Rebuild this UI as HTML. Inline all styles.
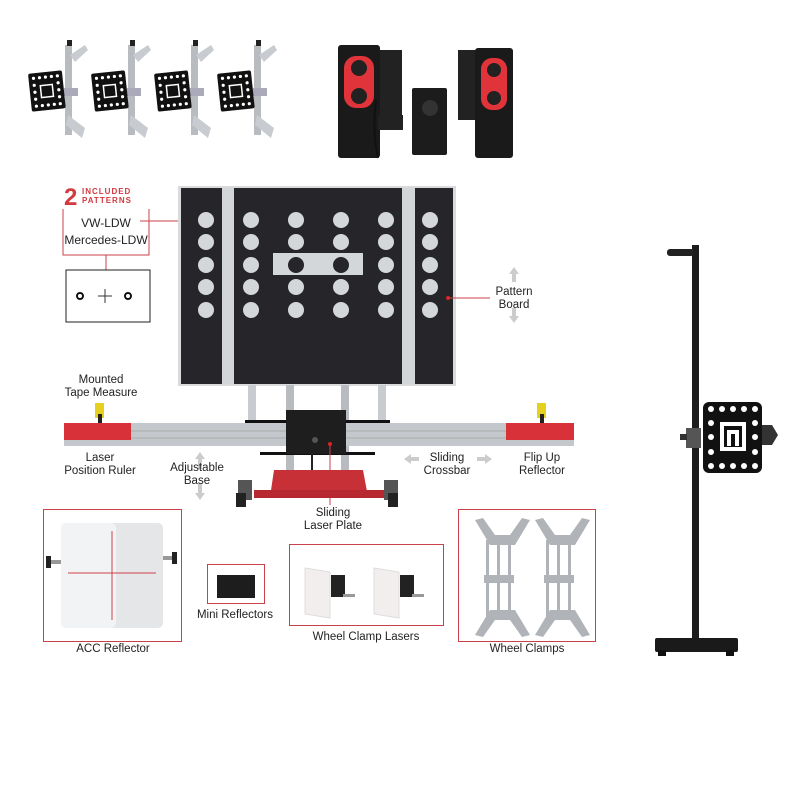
<!DOCTYPE html>
<html><head><meta charset="utf-8"><style>
body{margin:0;background:#fff;width:800px;height:800px;overflow:hidden;position:relative;font-family:"Liberation Sans",sans-serif}
.a{position:absolute}
.t{position:absolute;font-size:11.5px;color:#222;text-align:center;line-height:13px;transform:translateX(-50%);white-space:nowrap}
.box{position:absolute;border:1.5px solid #c9424a}
.dot{position:absolute;width:16px;height:16px;border-radius:50%;background:#d4d7da}
</style></head><body>
<svg class="a" style="left:0;top:0" width="800" height="800">
<defs>
<g id="clamp">
<rect x="35" y="45" width="7" height="90" fill="#b8bcc0"/>
<path d="M40 55 L55 45 L58 50 L45 62 Z" fill="#c8ccd0"/>
<path d="M38 115 L55 128 L52 138 L36 125 Z" fill="#c8ccd0"/>
<rect x="34" y="88" width="14" height="8" fill="#aab"/>
<rect x="37" y="40" width="5" height="6" fill="#222"/>
<g transform="rotate(-6 17 92)">
<rect x="0" y="72" width="34" height="38" rx="2" fill="#111"/>
<g fill="#fff">
<circle cx="5" cy="77" r="1.6"/><circle cx="11" cy="77" r="1.6"/><circle cx="17" cy="77" r="1.6"/><circle cx="23" cy="77" r="1.6"/><circle cx="29" cy="77" r="1.6"/>
<circle cx="5" cy="84" r="1.6"/><circle cx="29" cy="84" r="1.6"/><circle cx="5" cy="91" r="1.6"/><circle cx="29" cy="91" r="1.6"/><circle cx="5" cy="98" r="1.6"/><circle cx="29" cy="98" r="1.6"/>
<circle cx="5" cy="105" r="1.6"/><circle cx="11" cy="105" r="1.6"/><circle cx="17" cy="105" r="1.6"/><circle cx="23" cy="105" r="1.6"/><circle cx="29" cy="105" r="1.6"/>
<rect x="11" y="85" width="12" height="12" fill="none" stroke="#fff" stroke-width="1.5"/>
</g></g>
</g>
</defs>
<use href="#clamp" x="30" y="0"/><use href="#clamp" x="93" y="0"/><use href="#clamp" x="156" y="0"/><use href="#clamp" x="219" y="0"/>
<!-- cameras -->
<rect x="338" y="45" width="42" height="113" rx="3" fill="#1a1a1a"/>
<rect x="380" y="50" width="22" height="70" fill="#222"/>
<rect x="378" y="115" width="25" height="15" fill="#222"/>
<rect x="344" y="56" width="30" height="52" rx="12" fill="#e0343a"/>
<circle cx="359" cy="68" r="8" fill="#222"/><circle cx="359" cy="96" r="8" fill="#222"/>
<path d="M376 100 Q372 130 378 158" stroke="#111" stroke-width="2" fill="none"/>
<rect x="412" y="88" width="35" height="67" rx="2" fill="#1c1c1c"/>
<circle cx="430" cy="108" r="8" fill="#333"/>
<rect x="458" y="50" width="20" height="70" fill="#222"/>
<rect x="475" y="48" width="38" height="110" rx="3" fill="#1a1a1a"/>
<rect x="481" y="58" width="26" height="52" rx="11" fill="#e0343a"/>
<circle cx="494" cy="70" r="7" fill="#222"/><circle cx="494" cy="98" r="7" fill="#222"/>
<!-- 2 included patterns -->
<text x="64" y="205" font-family="Liberation Sans" font-weight="bold" font-size="24" fill="#d23a40">2</text>
<text x="82" y="194" font-family="Liberation Sans" font-size="8" font-weight="bold" fill="#d23a40" letter-spacing="1">INCLUDED</text>
<text x="82" y="203" font-family="Liberation Sans" font-size="8" font-weight="bold" fill="#d23a40" letter-spacing="1">PATTERNS</text>
<path d="M63 209 V255 H149 V209" fill="none" stroke="#c9424a" stroke-width="1"/>
<line x1="106" y1="255" x2="106" y2="277" stroke="#c9424a"/>
<circle cx="106" cy="277" r="2" fill="#c9424a"/>
<line x1="140" y1="221" x2="187" y2="221" stroke="#c9424a"/>
<circle cx="187" cy="221" r="2" fill="#e02020"/>
<rect x="66" y="270" width="84" height="52" fill="#fff" stroke="#222" stroke-width="1"/>
<circle cx="80" cy="296" r="3" fill="none" stroke="#111" stroke-width="2"/>
<circle cx="128" cy="296" r="3" fill="none" stroke="#111" stroke-width="2"/>
<path d="M98 296 H112 M105 289 V303" stroke="#333"/>
<!-- board -->
<rect x="178" y="186" width="278" height="200" fill="#d8dadc"/>
<rect x="181" y="188" width="272" height="196" fill="#25252a"/>
<rect x="222" y="188" width="12" height="196" fill="#d3d6d9"/>
<rect x="402" y="188" width="13" height="196" fill="#d3d6d9"/>
<rect x="273" y="253" width="90" height="22" fill="#d4d7da"/>
<circle cx="448" cy="298" r="2" fill="#e02020"/>
<line x1="448" y1="298" x2="490" y2="298" stroke="#c9424a"/>
<!-- arrows -->
<g fill="#ccc">
<path d="M514 267 l-5 7 h3 v8 h4 v-8 h3 z"/><path d="M514 323 l-5 -7 h3 v-8 h4 v8 h3 z"/>
<path d="M200 452 l-5 7 h3 v10 h4 v-10 h3 z"/><path d="M200 500 l-5 -7 h3 v-10 h4 v10 h3 z"/>
<path d="M404 459 l7 -5 v3 h8 v4 h-8 v3 z"/><path d="M492 459 l-7 -5 v3 h-8 v4 h8 v3 z"/>
</g>
<!-- uprights -->
<rect x="248" y="385" width="8" height="40" fill="#c8ccd0"/><rect x="378" y="385" width="8" height="40" fill="#c8ccd0"/>
<rect x="286" y="385" width="8" height="85" fill="#b8bcc0"/><rect x="341" y="385" width="8" height="85" fill="#b8bcc0"/>
<rect x="245" y="420" width="145" height="4" fill="#111"/>
<!-- crossbar -->
<rect x="64" y="423" width="510" height="23" fill="#c4c8cc"/>
<line x1="64" y1="431" x2="574" y2="431" stroke="#aaa"/><line x1="64" y1="438" x2="574" y2="438" stroke="#aaa"/>
<rect x="64" y="423" width="67" height="17" fill="#d8313a"/>
<rect x="506" y="423" width="68" height="17" fill="#d8313a"/>
<rect x="95" y="403" width="9" height="15" fill="#e5d020"/><rect x="98" y="414" width="4" height="9" fill="#222"/>
<rect x="537" y="403" width="9" height="15" fill="#e5d020"/><rect x="540" y="414" width="4" height="9" fill="#222"/>
<rect x="260" y="452" width="115" height="3" fill="#111"/>
<rect x="286" y="410" width="60" height="44" fill="#1e1e1e"/>
<circle cx="315" cy="440" r="3" fill="#555"/>
<line x1="330" y1="444" x2="330" y2="505" stroke="#c9424a"/>
<circle cx="330" cy="444" r="2" fill="#e02020"/>
<line x1="312" y1="454" x2="312" y2="490" stroke="#222" stroke-width="2"/>
<!-- base -->
<path d="M274 470 H363 L368 497 H270 Z" fill="#c83038"/>
<rect x="254" y="490" width="135" height="8" fill="#b82830"/>
<rect x="238" y="480" width="14" height="20" fill="#555"/><rect x="384" y="480" width="14" height="20" fill="#555"/>
<rect x="236" y="493" width="10" height="14" fill="#222"/><rect x="388" y="493" width="10" height="14" fill="#222"/>
<!-- bottom items -->
<rect x="61" y="523" width="102" height="105" rx="5" fill="#e4e6e8"/>
<rect x="61" y="523" width="55" height="105" rx="5" fill="#f2f3f4"/>
<line x1="68" y1="573" x2="156" y2="573" stroke="#d04048"/><line x1="112" y1="531" x2="112" y2="620" stroke="#d04048"/>
<rect x="50" y="560" width="11" height="4" fill="#999"/><rect x="46" y="556" width="5" height="12" fill="#222"/>
<rect x="163" y="556" width="10" height="4" fill="#999"/><rect x="172" y="552" width="5" height="12" fill="#222"/>
<rect x="217" y="575" width="38" height="23" fill="#1d1d1d"/>
<path d="M305 568 L330 572 V618 L305 614 Z" fill="#f2eeee" stroke="#ddd"/>
<rect x="331" y="575" width="14" height="22" fill="#222"/><rect x="343" y="594" width="12" height="3" fill="#999"/>
<path d="M374 568 L399 572 V618 L374 614 Z" fill="#f2eeee" stroke="#ddd"/>
<rect x="400" y="575" width="14" height="22" fill="#222"/><rect x="412" y="594" width="12" height="3" fill="#999"/>
<g fill="#b0b4b8">
<path d="M475 520 L490 545 H515 L530 520 L522 518 L510 535 H495 L483 518 Z"/>
<rect x="486" y="540" width="3" height="80"/><rect x="497" y="540" width="3" height="80"/><rect x="508" y="540" width="3" height="80"/>
<rect x="484" y="575" width="30" height="8"/>
<path d="M475 635 L490 610 H515 L530 635 L522 637 L510 620 H495 L483 637 Z"/>
<path d="M535 520 L550 545 H575 L590 520 L582 518 L570 535 H555 L543 518 Z"/>
<rect x="546" y="540" width="3" height="80"/><rect x="557" y="540" width="3" height="80"/><rect x="568" y="540" width="3" height="80"/>
<rect x="544" y="575" width="30" height="8"/>
<path d="M535 635 L550 610 H575 L590 635 L582 637 L570 620 H555 L543 637 Z"/>
</g>
<!-- stand -->
<rect x="692" y="245" width="7" height="395" fill="#1c1c1c"/>
<rect x="667" y="249" width="27" height="7" rx="3" fill="#222"/>
<rect x="655" y="638" width="83" height="14" rx="2" fill="#1a1a1a"/>
<rect x="658" y="650" width="8" height="6" fill="#111"/><rect x="726" y="650" width="8" height="6" fill="#111"/>
<rect x="703" y="402" width="59" height="71" rx="6" fill="#111"/>
<path d="M762 425 h10 l6 10 l-6 10 h-10 z" fill="#333"/>
<rect x="686" y="428" width="15" height="20" fill="#555"/><rect x="680" y="434" width="7" height="6" fill="#333"/>
<g fill="#fff">
<circle cx="711" cy="409" r="3"/><circle cx="722" cy="409" r="3"/><circle cx="733" cy="409" r="3"/><circle cx="744" cy="409" r="3"/><circle cx="755" cy="409" r="3"/>
<circle cx="711" cy="466" r="3"/><circle cx="722" cy="466" r="3"/><circle cx="733" cy="466" r="3"/><circle cx="744" cy="466" r="3"/><circle cx="755" cy="466" r="3"/>
<circle cx="711" cy="423" r="3"/><circle cx="711" cy="437" r="3"/><circle cx="711" cy="452" r="3"/>
<circle cx="755" cy="423" r="3"/><circle cx="755" cy="437" r="3"/><circle cx="755" cy="452" r="3"/>
</g>
<rect x="720" y="422" width="26" height="29" fill="#fff"/><rect x="724" y="426" width="18" height="21" fill="#111"/>
<path d="M727 446 V430 H739 V446 H735 V434 H731 V446 Z" fill="#fff"/>
</svg>
<div class="box" style="left:43px;top:509px;width:137px;height:131px"></div>
<div class="box" style="left:207px;top:564px;width:56px;height:38px"></div>
<div class="box" style="left:289px;top:544px;width:153px;height:80px"></div>
<div class="box" style="left:458px;top:509px;width:136px;height:131px"></div>
<div class="t" style="left:106px;top:217px;font-size:12px">VW-LDW</div>
<div class="t" style="left:106px;top:234px;font-size:12px">Mercedes-LDW</div>
<div class="t" style="left:514px;top:286px">Pattern<br>Board</div>
<div class="t" style="left:101px;top:374px">Mounted<br>Tape Measure</div>
<div class="t" style="left:100px;top:452px">Laser<br>Position Ruler</div>
<div class="t" style="left:197px;top:462px">Adjustable<br>Base</div>
<div class="t" style="left:447px;top:452px">Sliding<br>Crossbar</div>
<div class="t" style="left:542px;top:452px">Flip Up<br>Reflector</div>
<div class="t" style="left:333px;top:507px">Sliding<br>Laser Plate</div>
<div class="t" style="left:113px;top:643px">ACC Reflector</div>
<div class="t" style="left:235px;top:609px">Mini Reflectors</div>
<div class="t" style="left:366px;top:631px">Wheel Clamp Lasers</div>
<div class="t" style="left:527px;top:643px">Wheel Clamps</div>
<div id="dots"></div>
<script>
var xs=[206,251,296,341,386,430],ys=[220,242,265,287,310],h='';
xs.forEach(function(x,i){ys.forEach(function(y,j){var c='#d4d7da';if(j==2&&(i==2||i==3))c='#25252a';h+='<div class="dot" style="left:'+(x-8)+'px;top:'+(y-8)+'px;background:'+c+'"></div>';});});
document.getElementById('dots').innerHTML=h;
</script>
</body></html>
